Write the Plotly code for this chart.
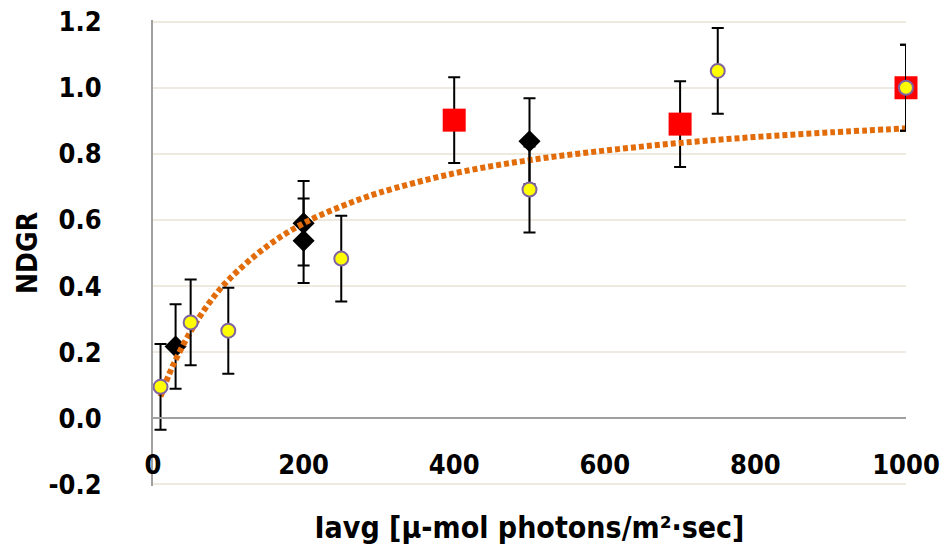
import plotly.graph_objects as go

# Yellow circles
circ_x = [10, 50, 100, 250, 500, 750, 1000]
circ_y = [0.095, 0.29, 0.265, 0.483, 0.692, 1.051, 1.0]
circ_err = [0.13, 0.13, 0.13, 0.13, 0.13, 0.13, 0.13]

# Black diamonds
dia_x = [30, 200, 200, 500]
dia_y = [0.217, 0.590, 0.537, 0.838]
dia_err = [0.128, 0.128, 0.128, 0.13]

# Red squares
sq_x = [400, 700, 1000]
sq_y = [0.902, 0.890, 1.0]
sq_err = [0.13, 0.13, 0.13]

# Trend curve
fit_x = [10, 25, 50, 75, 100, 150, 200, 250, 300, 400, 500, 600, 700, 800, 900, 1000]
fit_y = [0.066, 0.152, 0.263, 0.350, 0.418, 0.518, 0.590, 0.641, 0.682, 0.741, 0.781, 0.810, 0.833, 0.851, 0.865, 0.877]

x_ticks = [0, 200, 400, 600, 800, 1000]
y_ticks = [-0.2, 0.0, 0.2, 0.4, 0.6, 0.8, 1.0, 1.2]

FONT = "DejaVu Sans Condensed, sans-serif"

fig = go.Figure()

def eb(arr):
    return dict(type="data", array=arr, visible=True, color="black", thickness=2, width=6)

fig.add_trace(go.Scatter(
    x=dia_x, y=dia_y, mode="markers", error_y=eb(dia_err), cliponaxis=False,
    marker=dict(symbol="diamond", size=17, color="black", line=dict(width=0)),
    showlegend=False))
fig.add_trace(go.Scatter(
    x=sq_x, y=sq_y, mode="markers", error_y=eb(sq_err), cliponaxis=False,
    marker=dict(symbol="square", size=23, color="#FF0000", line=dict(width=0)),
    showlegend=False))
fig.add_trace(go.Scatter(
    x=fit_x, y=fit_y, mode="lines", cliponaxis=False,
    line=dict(color="#E36C0A", width=6, dash="5px,3px", shape="spline"),
    showlegend=False))
fig.add_trace(go.Scatter(
    x=circ_x, y=circ_y, mode="markers", error_y=eb(circ_err), cliponaxis=False,
    marker=dict(symbol="circle", size=14, color="#FFFF00", line=dict(width=2, color="#8064A2")),
    showlegend=False))

fig.update_layout(
    width=949, height=551,
    margin=dict(l=153, r=43, t=20, b=65),
    paper_bgcolor="white", plot_bgcolor="white",
    font=dict(family=FONT, size=28, color="black"),
)
fig.update_xaxes(
    range=[0, 1000], tickvals=x_ticks, ticktext=[str(v) for v in x_ticks],
    anchor="free", position=0.205 / 1.41, automargin=False,
    showline=True, linecolor="#A0A0A0", linewidth=2,
    showgrid=False, zeroline=False, ticks="",
    ticklabelstandoff=22, ticklabeloverflow="allow",
    tickfont=dict(family=FONT, size=27, color="black", weight="bold"),
    title=dict(text="Iavg [μ-mol photons/m²·sec]",
               font=dict(family=FONT, size=30, color="black", weight="bold"),
               standoff=37),
)
fig.update_yaxes(
    range=[-0.205, 1.205], tickvals=y_ticks, ticktext=[f"{v:.1f}" for v in y_ticks],
    automargin=False,
    showline=True, linecolor="#A0A0A0", linewidth=2,
    showgrid=True, gridcolor="#EEEAE0", gridwidth=1.5,
    zeroline=False, ticks="",
    ticklabelstandoff=44, ticklabeloverflow="allow",
    tickfont=dict(family=FONT, size=27, color="black", weight="bold"),
    title=dict(text="NDGR",
               font=dict(family=FONT, size=28, color="black", weight="bold"),
               standoff=3),
)

fig.write_html("out.html", config={"displayModeBar": False},
               post_script="document.body.style.margin='0px';")
